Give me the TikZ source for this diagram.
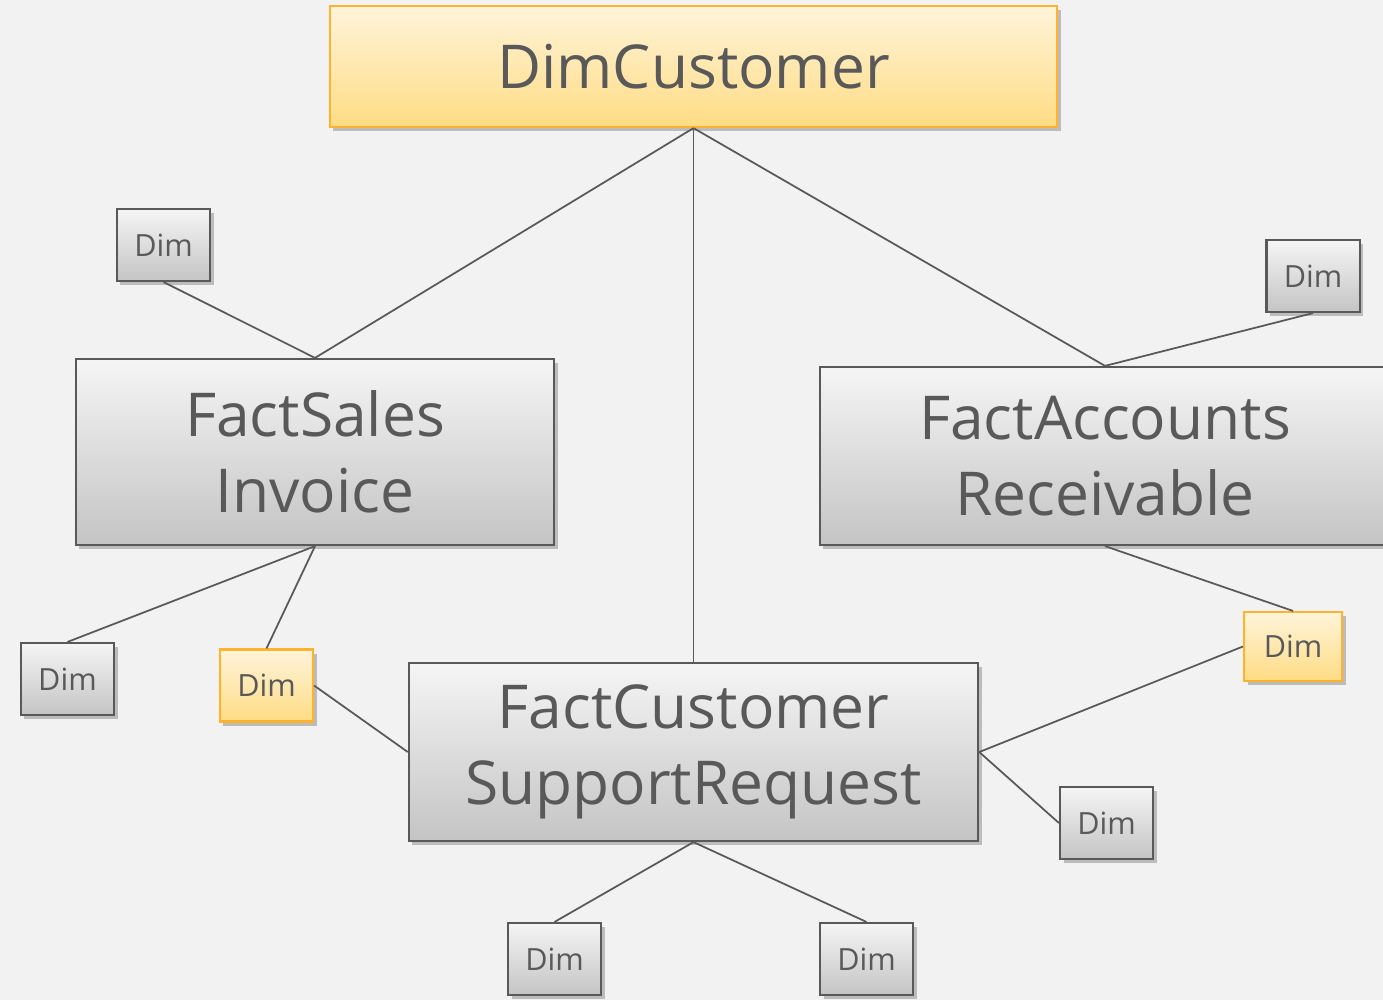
\documentclass[tikz,border=0pt]{standalone}
\usepackage{fontspec}
\setmainfont{Open Sans}
\usetikzlibrary{shadows}

\definecolor{bgGray}{HTML}{F2F2F2}
\definecolor{txtGray}{HTML}{595959}
\definecolor{lineGray}{HTML}{595959}
\definecolor{goldTop}{HTML}{FFF4DA}
\definecolor{goldBot}{HTML}{FFDC84}
\definecolor{goldEdge}{HTML}{FFB32C}
\definecolor{greyTop}{HTML}{F5F5F5}
\definecolor{greyBot}{HTML}{C4C4C4}

\tikzset{
  box/.style={draw=lineGray, line width=0.6pt, top color=greyTop, bottom color=greyBot,
    text=txtGray, align=center, inner sep=0pt,
    drop shadow={shadow xshift=1pt, shadow yshift=-1.2pt, opacity=0.22, fill=black}},
  gold/.style={draw=goldEdge, top color=goldTop, bottom color=goldBot},
  fact/.style={box, font=\fontsize{17.2}{21.6}\selectfont},
  dimbox/.style={box, minimum width=0.93cm, minimum height=0.72cm,
    font=\fontsize{8.7}{11}\selectfont},
  link/.style={draw=lineGray, line width=0.5pt},
}

\begin{document}
\begin{tikzpicture}[x=0.01cm, y=-0.01cm]
    \fill[bgGray] (0,0) rectangle (1383,1000);
    \useasboundingbox (0,0) rectangle (1383,1000);
    \clip (0,0) rectangle (1383,1000);

    % fact and dimension tables
    \node [fact, gold, minimum width=7.27cm, minimum height=1.21cm] (cust) at (693.5,66.5) {DimCustomer};
    \node [fact, minimum width=4.78cm, minimum height=1.86cm] (sales) at (315,452) {FactSales\\Invoice};
    \node [fact, minimum width=5.70cm, minimum height=1.78cm] (accts) at (1105,456) {FactAccounts\\Receivable};
    \node [fact, minimum width=5.69cm, minimum height=1.78cm] (supp) at (693.5,752) {FactCustomer\\SupportRequest};

    \node [dimbox] (dimA) at (163.5,245) {Dim};
    \node [dimbox] (dimB) at (1313,276) {Dim};
    \node [dimbox] (dimC) at (67.5,679) {Dim};
    \node [dimbox, gold] (dimD) at (266.5,685.5) {Dim};
    \node [dimbox, gold, minimum width=0.98cm, minimum height=0.69cm] (dimE) at (1293,646.5) {Dim};
    \node [dimbox] (dimF) at (1106.5,823) {Dim};
    \node [dimbox] (dimG) at (554.5,959) {Dim};
    \node [dimbox] (dimH) at (866.5,959) {Dim};

    % links
    \draw [link] (cust.south) -- (sales.north);
    \draw [link] (cust.south) -- (supp.north);
    \draw [link] (cust.south) -- (accts.north);
    \draw [link] (dimA.south) -- (sales.north);
    \draw [link] (dimB.south) -- (accts.north);
    \draw [link] (sales.south) -- (dimC.north);
    \draw [link] (sales.south) -- (dimD.north);
    \draw [link] (dimD.east) -- (supp.west);
    \draw [link] (accts.south) -- (dimE.north);
    \draw [link] (supp.east) -- (dimE.west);
    \draw [link] (supp.east) -- (dimF.west);
    \draw [link] (supp.south) -- (dimG.north);
    \draw [link] (supp.south) -- (dimH.north);
\end{tikzpicture}
\end{document}
